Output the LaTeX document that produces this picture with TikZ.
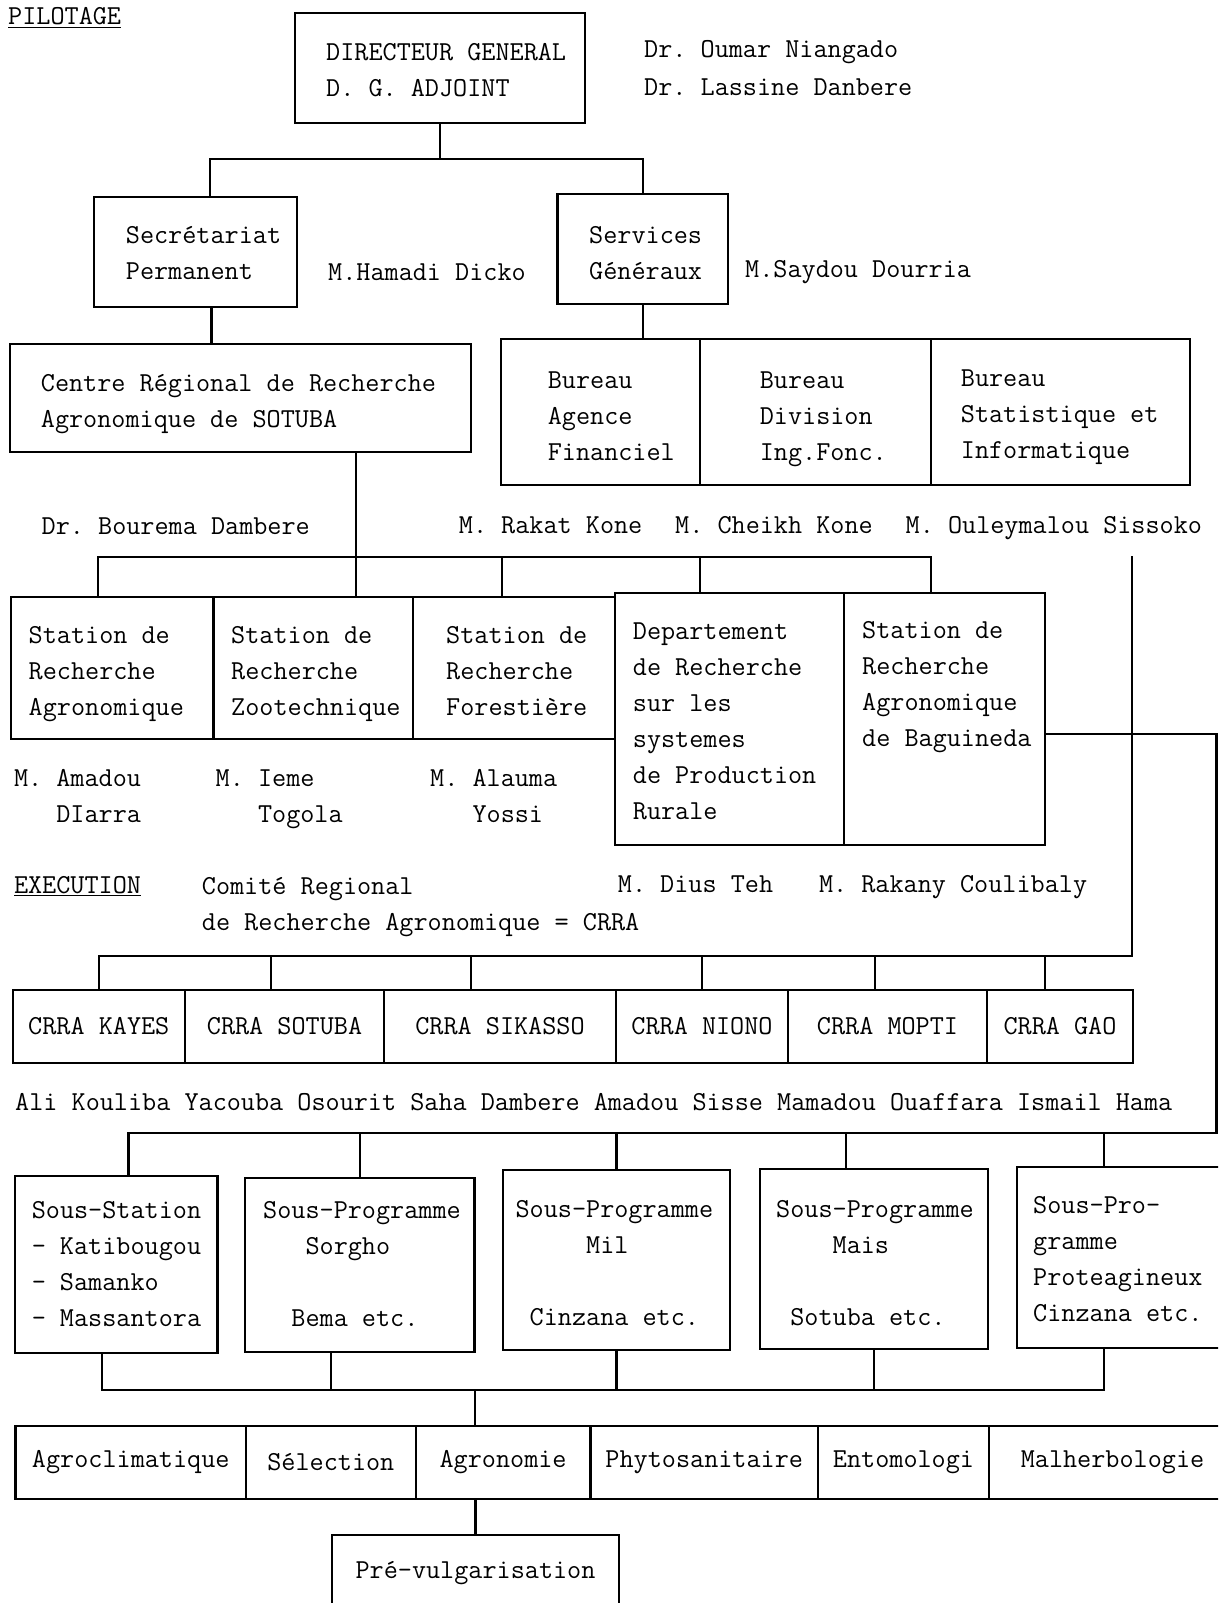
\documentclass[tikz,border=0pt]{standalone}
\usetikzlibrary{positioning}

\begin{document}
\begin{tikzpicture}[x=1pt,y=-1pt,
  txt/.style={font=\fontsize{27.4}{36}\selectfont\ttfamily\frenchspacing,
    inner sep=0pt,align=left},
  box/.style={draw,line width=2.2pt,inner sep=0pt,outer sep=0pt,anchor=north west,
    font=\fontsize{27.4}{36}\selectfont\ttfamily\frenchspacing,align=center},
  person/.style={txt,anchor=base west},
  link/.style={line width=2.2pt}]
  \useasboundingbox (0,0) rectangle (1218,1603);
  \clip (0,0) rectangle (1218,1603);

  % pilotage
  \node[person] (pilot) at (8,25) {\underline{PILOTAGE}};
  \node[box,minimum width=290.4pt,minimum height=109.4pt] (dg) at (294.6,13.3) {};
  \node[txt,below right=30pt and 31.4pt of dg.north west] (dgt)
    {DIRECTEUR GENERAL\\D. G. ADJOINT};
  \node[person] (dgn) at (644,95.7) {Dr. Oumar Niangado\\[2pt]Dr. Lassine Danbere};

  \node[box,minimum width=202.9pt,minimum height=110pt] (sec) at (93.7,196.7) {};
  \node[txt,below right=29.9pt and 32pt of sec.north west] (sect)
    {Secrétariat\\Permanent};
  \node[person] (secn) at (328,280) {M.Hamadi Dicko};
  \node[box,minimum width=170.5pt,minimum height=110pt] (svc) at (557.5,194.3) {};
  \node[txt,below right=32.3pt and 31.5pt of svc.north west] (svct)
    {Services\\Généraux};
  \node[person] (svcn) at (745,277.3) {M.Saydou Dourria};

  \node[box,minimum width=461pt,minimum height=108pt] (crsot) at (10,344) {};
  \node[txt,below right=30.7pt and 30.7pt of crsot.north west] (crsott)
    {Centre Régional de Recherche\\Agronomique de SOTUBA};
  \node[person] (crsn) at (41.5,534) {Dr. Bourema Dambere};

  \node[box,minimum width=199pt,minimum height=146pt] (bur1) at (501,339) {};
  \node[box,minimum width=231pt,minimum height=146pt,right=0pt of bur1] (bur2) {};
  \node[box,minimum width=259pt,minimum height=146pt,right=0pt of bur2] (bur3) {};
  \node[txt,below right=32.3pt and 46.6pt of bur1.north west] (bur1t)
    {Bureau\\Agence\\Financiel};
  \node[txt,below right=32.3pt and 59.6pt of bur2.north west] (bur2t)
    {Bureau\\Division\\Ing.Fonc.};
  \node[txt,below right=31pt and 29.7pt of bur3.north west] (bur3t)
    {Bureau\\Statistique et\\Informatique};
  \node[person] (bur1n) at (458.7,533) {M. Rakat Kone};
  \node[person] (bur2n) at (675,533) {M. Cheikh Kone};
  \node[person] (bur3n) at (905.5,533) {M. Ouleymalou Sissoko};

  % stations
  \node[box,minimum width=202.5pt,minimum height=142pt] (sta1) at (11,597) {};
  \node[box,minimum width=199.5pt,minimum height=142pt,right=0pt of sta1] (sta2) {};
  \node[box,minimum width=202pt,minimum height=142pt,right=0pt of sta2] (sta3) {};
  \node[box,minimum width=229pt,minimum height=252pt] (dep) at (615,593) {};
  \node[box,minimum width=201pt,minimum height=252pt,right=0pt of dep] (bag) {};
  \node[txt,below right=29.3pt and 17.5pt of sta1.north west] (sta1t)
    {Station de\\Recherche\\Agronomique};
  \node[txt,below right=29.3pt and 17.5pt of sta2.north west] (sta2t)
    {Station de\\Recherche\\Zootechnique};
  \node[txt,below right=29.3pt and 33pt of sta3.north west] (sta3t)
    {Station de\\Recherche\\Forestière};
  \node[txt,below right=29.9pt and 17.7pt of dep.north west] (dept)
    {Departement\\de Recherche\\sur les\\systemes\\de Production\\Rurale};
  \node[txt,below right=28.3pt and 18pt of bag.north west] (bagt)
    {Station de\\Recherche\\Agronomique\\de Baguineda};
  \node[person] (sta1n) at (13.8,822) {M. Amadou\\\phantom{M. }DIarra};
  \node[person] (sta2n) at (215.5,822) {M. Ieme\\\phantom{M. }Togola};
  \node[person] (sta3n) at (430,822) {M. Alauma\\\phantom{M. }Yossi};

  % execution
  \node[person] (exec) at (13.8,893.3) {\underline{EXECUTION}};
  \node[person] (crra) at (201.7,930) {Comité Regional\\de Recherche Agronomique = CRRA};
  \node[person] (dius) at (617.7,892) {M. Dius Teh};
  \node[person] (rakany) at (818.8,892) {M. Rakany Coulibaly};

  \node[box,minimum width=172.4pt,minimum height=73pt] (ck1) at (12.6,990) {CRRA KAYES};
  \node[box,minimum width=199pt,minimum height=73pt,right=0pt of ck1] (ck2) {CRRA SOTUBA};
  \node[box,minimum width=232pt,minimum height=73pt,right=0pt of ck2] (ck3) {CRRA SIKASSO};
  \node[box,minimum width=172pt,minimum height=73pt,right=0pt of ck3] (ck4) {CRRA NIONO};
  \node[box,minimum width=199pt,minimum height=73pt,right=0pt of ck4] (ck5) {CRRA MOPTI};
  \node[box,minimum width=146pt,minimum height=73pt,right=0pt of ck5] (ck6) {CRRA GAO};
  \node[person] (ckn) at (15,1110)
    {Ali Kouliba Yacouba Osourit Saha Dambere Amadou Sisse Mamadou Ouaffara Ismail Hama};

  % sous-programmes
  \node[box,minimum width=202.5pt,minimum height=177pt] (ss1) at (15,1176) {};
  \node[box,minimum width=229.5pt,minimum height=174pt] (ss2) at (245,1178) {};
  \node[box,minimum width=227pt,minimum height=180pt] (ss3) at (503,1170) {};
  \node[box,minimum width=228.4pt,minimum height=180pt] (ss4) at (759.6,1169) {};
  \node[box,minimum width=223pt,minimum height=181pt] (ss5) at (1017,1167) {};
  \node[txt,below right=25.6pt and 16.6pt of ss1.north west] (ss1t)
    {Sous-Station\\- Katibougou\\- Samanko\\- Massantora};
  \node[txt,below right=23.3pt and 18pt of ss2.north west] (ss2t)
    {Sous-Programme\\\phantom{Sou}Sorgho\\[36pt]\phantom{So}Bema etc.};
  \node[txt,below right=30.3pt and 12.4pt of ss3.north west] (ss3t)
    {Sous-Programme\\\phantom{Sous-}Mil\\[36pt]\phantom{S}Cinzana etc.};
  \node[txt,below right=31pt and 16.4pt of ss4.north west] (ss4t)
    {Sous-Programme\\\phantom{Sous}Mais\\[36pt]\phantom{S}Sotuba etc.};
  \node[txt,below right=29.3pt and 16pt of ss5.north west] (ss5t)
    {Sous-Pro-\\gramme\\Proteagineux\\Cinzana etc.};

  % disciplines
  \node[box,minimum width=230.5pt,minimum height=73pt] (d1) at (15.5,1426) {Agroclimatique};
  \node[box,minimum width=169.7pt,minimum height=73pt,right=0pt of d1] (d2) {Sélection};
  \node[box,minimum width=174.8pt,minimum height=73pt,right=0pt of d2] (d3) {Agronomie};
  \node[box,minimum width=227.5pt,minimum height=73pt,right=0pt of d3] (d4) {Phytosanitaire};
  \node[box,minimum width=171pt,minimum height=73pt,right=0pt of d4] (d5) {Entomologi};
  \node[box,minimum width=247pt,minimum height=73pt,right=0pt of d5] (d6) {Malherbologie};
  \node[box,minimum width=287pt,minimum height=77pt] (pv) at (332,1535) {Pré-vulgarisation};

  % connectors
  \draw[link] (dg.south) -- ++(0,36.3);
  \draw[link] ([xshift=14.6pt]sec.north) -- ++(0,-37.4) -| (svc.north);
  \draw[link] ([xshift=16.35pt]sec.south) -- ++(0,37.3);
  \draw[link] (svc.south) -- (svc.south |- bur1.north);
  \draw[link] ([xshift=115.5pt]crsot.south) -- ++(0,145);
  \draw[link] ([xshift=-14pt]sta1.north) -- ++(0,-40) -| ([xshift=-13.5pt]bag.north);
  \draw[link] ([xshift=-12pt]sta3.north) -- ++(0,-40);
  \draw[link] ([xshift=-29.5pt]dep.north) -- ++(0,-36);

  \coordinate (feed) at (1132,556);
  \draw[link] (ck1.north) -- ++(0,-34) -| (feed);
  \draw[link] ([xshift=-13.5pt]ck2.north) -- ++(0,-34);
  \draw[link] ([xshift=-29pt]ck3.north) -- ++(0,-34);
  \draw[link] (ck4.north) -- ++(0,-34);
  \draw[link] ([xshift=-12.5pt]ck5.north) -- ++(0,-34);
  \draw[link] ([xshift=-15pt]ck6.north) -- ++(0,-34);

  \coordinate (rcorner) at (1216.5,1133);
  \draw[link] ([yshift=-15pt]bag.east) -| (rcorner) -| ([xshift=12.25pt]ss1.north);
  \draw[link] (ss2.north) -- (ss2.north |- rcorner);
  \draw[link] (ss3.north) -- (ss3.north |- rcorner);
  \draw[link] ([xshift=-28pt]ss4.north) -- ++(0,-36);
  \draw[link] ([xshift=-24.5pt]ss5.north) -- ++(0,-34);

  \draw[link] ([xshift=-14pt]ss1.south) -- ++(0,37) -| ([xshift=-24.5pt]ss5.south);
  \draw[link] ([xshift=-28.75pt]ss2.south) -- ++(0,38);
  \draw[link] (ss3.south) -- ++(0,40);
  \draw[link] (ss4.south) -- ++(0,41);
  \draw[link] ([xshift=-28pt]d3.north) -- ++(0,-36);
  \draw[link] (pv.north) -- (pv.north |- d3.south);
\end{tikzpicture}
\end{document}
